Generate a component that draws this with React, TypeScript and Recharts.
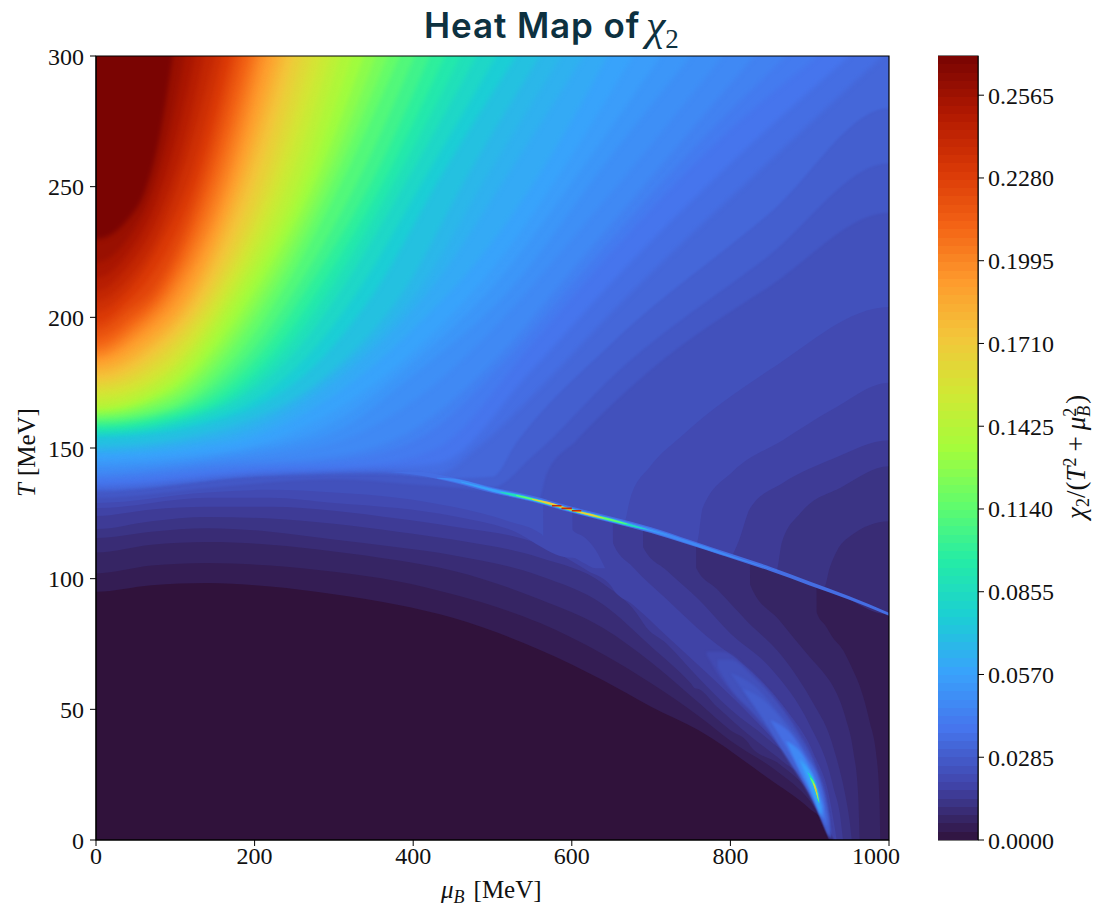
import { Area, Bar, ComposedChart, ReferenceArea, XAxis, YAxis } from 'recharts'

const MU_TICKS = [0, 200, 400, 600, 800, 1000]
const T_TICKS = [0, 50, 100, 150, 200, 250, 300]
const CBAR_TICKS = [0, 0.0285, 0.057, 0.0855, 0.114, 0.1425, 0.171, 0.1995, 0.228, 0.2565]
const CBAR_MAX = 0.27
const CBAR_STEP = 0.00285
const cbarRow = [{ name: 'cbar', range: [0, CBAR_MAX] }]

// plotly's 15 stop turbo ramp
const TURBO = ['#30123b', '#4145ab', '#4675ed', '#39a2fc', '#1bcfd4', '#24eca6', '#61fc6c', '#a4fc3b', '#d1e834', '#f3c63a', '#fe9b2d', '#f36315', '#d93806', '#b11901', '#7a0402']

function turbo(value: number) {
  const t = Math.min(1, Math.max(0, value / CBAR_MAX)) * (TURBO.length - 1)
  const i = Math.min(TURBO.length - 2, Math.floor(t))
  const mix = (at: number) => {
    const a = parseInt(TURBO[i].slice(at, at + 2), 16)
    const b = parseInt(TURBO[i + 1].slice(at, at + 2), 16)
    return Math.round(a + (b - a) * (t - i))
  }
  return `rgb(${mix(1)},${mix(3)},${mix(5)})`
}

// contour levels under the crossover line: [mu, lower T, upper T]
const lowValues = [0.00285, 0.0057, 0.00855, 0.0114, 0.01425, 0.0171, 0.01995, 0.0228]
const lowCurves = [
  [[0, 95, 300], [70, 97.5, 300], [140, 98.3, 300], [220, 97, 300], [300, 94, 300], [380, 90, 300], [450, 85, 300], [560, 72.7, 300], [640, 61, 300], [700, 51, 300], [760, 42, 300], [846, 24, 300], [900, 12, 300], [917, 7, 300], [923, 1, 300], [925, 0, 300], [1000, 0, 300]],
  [[0, 102, 300], [70, 105, 300], [140, 106, 300], [220, 105, 300], [300, 102.6, 300], [380, 99, 300], [450, 94, 300], [560, 83, 300], [640, 71, 300], [700, 60, 300], [762, 47, 300], [800, 38, 300], [860, 26, 300], [900, 15, 300], [907, 12, 300], [909, 11, 87], [920, 6, 82], [928, 0, 78], [942, 0, 72.7], [953, 0, 66], [963, 0, 59], [975, 0, 46], [985, 0, 30], [988, 0, 15], [989, 0, 0]],
  [[0, 110, 300], [70, 113, 300], [140, 114, 300], [220, 113, 300], [300, 110.4, 300], [380, 107, 300], [450, 103, 300], [560, 92, 300], [640, 81, 300], [700, 68, 300], [762, 52, 300], [800, 42, 300], [823, 37, 300], [825, 36, 97.6], [862, 29, 84], [900, 18, 70], [920, 8, 63], [929, 0, 59], [945, 0, 47], [955, 0, 34], [961, 0, 18], [963, 0, 0]],
  [[0, 115.6, 300], [70, 118, 300], [140, 119.3, 300], [220, 118, 300], [300, 115, 300], [380, 112, 300], [450, 109, 300], [560, 101, 300], [640, 90, 300], [700, 74, 300], [750, 60, 300], [756, 58, 300], [757, 58, 104], [783, 51, 96], [820, 41, 84], [866, 30, 70], [905, 19, 52], [925, 5, 40], [935, 0, 30], [945, 0, 17], [950, 0, 8], [953, 0, 0]],
  [[0, 119, 300], [70, 122, 300], [140, 123.6, 300], [220, 123, 300], [300, 121, 300], [380, 118, 300], [450, 115, 300], [560, 108, 300], [640, 98, 300], [688, 84, 300], [690, 83, 112], [720, 75, 103], [760, 62, 92], [800, 50, 79], [850, 38, 66], [900, 23, 44], [925, 5, 26], [930, 0, 20], [938, 0, 10], [942, 0, 0]],
  [[0, 124, 300], [70, 126.5, 300], [140, 127.5, 300], [220, 127.5, 300], [300, 126, 300], [380, 123, 300], [450, 120, 300], [560, 113, 300], [620, 103, 300], [650, 97, 300], [652, 96, 113.6], [677, 90, 104.5], [720, 78, 92], [770, 64, 78], [821, 49, 66], [870, 33, 50], [905, 19, 33], [925, 4, 16], [933, 0, 2], [934, 0, 0]],
  [[0, 127, 300], [140, 131, 300], [220, 131, 300], [300, 129, 300], [380, 127, 300], [450, 124, 300], [520, 119, 300], [599, 108, 300], [601, 108, 118.6], [615, 106, 116], [630, 104, 111], [642, 104, 104]],
  [[0, 129, 300], [140, 133, 300], [220, 134, 300], [300, 133, 300], [380, 131, 300], [450, 127.5, 300], [520, 122, 300], [562, 117, 300], [564, 116, 116]],
]

// the narrow lobe that runs into the spot near mu = 910
const spotValues = [0.01995, 0.0228, 0.0257, 0.0285, 0.0342, 0.0456, 0.057, 0.0798, 0.114, 0.171, 0.2]
const spotCurves = [
  [[770, 71, 72], [790, 61, 72], [820, 52, 66], [846, 44, 58], [880, 30, 44], [905, 16, 30], [922, 3, 14], [927, 0, 2]],
  [[784, 66, 69], [800, 58, 69], [830, 48, 62], [860, 37, 52], [885, 26, 41], [905, 15, 30], [922, 3, 13], [926, 0, 4]],
  [[800, 64, 64], [830, 51, 59], [860, 38, 49], [890, 24, 37], [910, 12, 25], [924, 2, 9], [926, 1, 1]],
  [[815, 58, 58], [840, 47, 54], [870, 32, 44], [895, 20, 33], [915, 8, 20], [924, 2, 8]],
  [[850, 46, 46], [875, 33, 41], [895, 22, 32], [915, 9, 19], [921, 5, 9]],
  [[870, 38, 38], [890, 25, 33], [905, 16, 24], [917, 8, 13]],
  [[887, 31, 31], [896, 24, 28], [908, 14, 21], [914, 9, 12]],
  [[897, 26, 26], [905, 20, 23], [911, 14, 18]],
  [[900, 24, 24], [907, 19, 21], [912, 14, 15]],
  [[904, 22, 22], [908, 18, 20], [911, 15, 15]],
  [[906, 21, 21], [909, 18, 18.5]],
]

// contour levels of the hot region above the line: [mu, lower T]
const capValues = [0.00855, 0.0114, 0.01425, 0.0171, 0.01995, 0.0228, 0.0257, 0.0285, 0.0314, 0.0342, 0.0371, 0.0399, 0.0428, 0.0456, 0.0485, 0.0513, 0.0542, 0.057, 0.0598, 0.0627, 0.0655, 0.0684, 0.0741, 0.0798, 0.0855, 0.0912, 0.0969, 0.1026, 0.1083, 0.114, 0.1197, 0.1254, 0.1311, 0.1368, 0.1425, 0.1482, 0.1539, 0.1596, 0.1653, 0.171, 0.1767, 0.1824, 0.1881, 0.1938, 0.1995, 0.2052, 0.2109, 0.2166, 0.2223, 0.228, 0.2337, 0.2394, 0.2451, 0.2508, 0.2565, 0.2622]
const capCurves = [
  [[820, 106.6], [866, 102], [930, 95], [1000, 86.3]],
  [[750, 113.6], [800, 108.6], [850, 103.6], [900, 98], [918, 96.5], [925, 104], [935, 111], [950, 116], [1000, 122]],
  [[688, 119.5], [750, 113.6], [800, 108.6], [850, 103.6], [858, 103], [865, 114], [888, 125], [940, 135], [1000, 143]],
  [[650, 122.4], [700, 118.5], [750, 113.6], [800, 108.6], [810, 114], [825, 127], [866, 136.6], [930, 146], [1000, 153]],
  [[599, 126.3], [650, 122.4], [700, 118.5], [750, 113.6], [758, 114], [765, 127], [803, 141], [866, 153], [930, 165], [1000, 175]],
  [[562, 129.5], [600, 126.2], [650, 122.4], [665, 121], [674, 131], [699, 143], [740, 155], [850, 180], [1000, 204]],
  [[0, 131], [150, 135], [300, 138], [400, 136], [480, 134], [550, 130.4], [558, 130], [568, 140], [606, 153], [700, 180], [850, 212], [1000, 240]],
  [[0, 133], [200, 139], [350, 140], [450, 138], [500, 135], [551, 147], [657, 179], [846, 223], [1000, 259]],
  [[0, 134], [200, 139.5], [350, 141], [450, 138.5], [500, 139], [530, 152], [650, 190], [850, 240], [1000, 280]],
  [[0, 135], [200, 140], [350, 141.5], [430, 140], [480, 150], [550, 170], [660, 205], [850, 260], [992, 300]],
  [[0, 136], [200, 141], [350, 142.5], [430, 144], [550, 180], [655, 215], [825, 266], [950, 300]],
  [[0, 137.5], [200, 142], [350, 144], [430, 150], [550, 190], [650, 225], [800, 272], [910, 300]],
  [[0, 139], [170, 143], [320, 146], [420, 156], [520, 185], [632, 224], [770, 270], [870, 300]],
  [[0, 140], [150, 144], [300, 147], [400, 157], [488, 179], [614, 223], [740, 268], [830, 300]],
  [[0, 141.5], [155, 145.5], [300, 152], [400, 168], [505, 197], [614, 235], [700, 266], [790, 300]],
  [[0, 143], [160, 147], [300, 156], [400, 178], [520, 210], [650, 262], [750, 300]],
  [[0, 144.5], [165, 148.5], [300, 160], [400, 183], [495, 210], [620, 260], [712, 300]],
  [[0, 146], [173, 150], [299, 164], [425, 194], [509, 222], [600, 262], [677, 300]],
  [[0, 147.5], [173, 152.5], [299, 170], [405, 197], [490, 225], [580, 265], [645, 300]],
  [[0, 149], [173, 155], [299, 175], [430, 214], [520, 255], [615, 300]],
  [[0, 150], [173, 157], [299, 178], [410, 212], [495, 255], [587, 300]],
  [[0, 151], [173, 159], [299, 180], [388, 210], [470, 255], [560, 300]],
  [[0, 154], [170, 162], [290, 186], [352, 210], [437, 255], [530, 300]],
  [[0, 155], [160, 163], [275, 188], [330, 210], [418, 255], [505, 300]],
  [[0, 156], [153, 165], [260, 190], [308, 210], [397, 255], [480, 300]],
  [[0, 157], [142, 165], [245, 190], [293, 210], [382, 255], [460, 300]],
  [[0, 158], [130, 165], [232, 190], [279, 210], [368, 255], [440, 300]],
  [[0, 159], [115, 165], [218, 190], [264, 210], [353, 255], [421, 300]],
  [[0, 160], [100, 165], [204, 190], [250, 210], [335, 255], [402, 300]],
  [[0, 161], [89, 165], [190, 190], [235, 210], [315, 255], [383, 300]],
  [[0, 162], [90, 167], [223, 210], [303, 255], [368, 300]],
  [[0, 163], [90, 169], [212, 210], [292, 255], [353, 300]],
  [[0, 164], [90, 171], [201, 210], [281, 255], [338, 300]],
  [[0, 165], [90, 173], [190, 210], [270, 255], [323, 300]],
  [[0, 166], [89, 175], [180, 210], [259, 255], [308, 300]],
  [[0, 168], [85, 177], [172, 210], [247, 255], [296, 300]],
  [[0, 170], [80, 178], [164, 210], [236, 255], [284, 300]],
  [[0, 172], [75, 180], [156, 210], [226, 255], [272, 300]],
  [[0, 174], [70, 182], [148, 210], [216, 255], [260, 300]],
  [[0, 176], [65, 184], [140, 210], [205, 255], [249, 300]],
  [[0, 178], [62, 186], [132, 210], [196, 255], [240, 300]],
  [[0, 180], [60, 188], [125, 210], [188, 255], [232, 300]],
  [[0, 182], [56, 190], [118, 210], [181, 255], [224, 300]],
  [[0, 184], [52, 192], [109, 210], [174, 255], [215, 300]],
  [[0, 185.5], [50, 194], [100, 210], [167, 255], [207, 300]],
  [[0, 187.5], [48, 196], [92, 210], [159, 255], [200, 300]],
  [[0, 189.5], [46, 198], [85, 210], [151, 255], [193, 300]],
  [[0, 192], [44, 200], [78, 210], [144, 255], [185, 300]],
  [[0, 195], [42, 203], [70, 210], [137, 255], [177, 300]],
  [[0, 198], [40, 206], [60, 212], [130, 255], [170, 300]],
  [[0, 202], [40, 210], [79, 227], [124, 258], [160, 300]],
  [[0, 206], [40, 214], [78, 231], [115, 261], [150, 300]],
  [[0, 210], [40, 219], [77, 237], [110, 265], [137, 300]],
  [[0, 215], [40, 224], [75, 243], [103, 270], [125, 300]],
  [[0, 221], [40, 230], [70, 247], [92, 270], [112, 300]],
  [[0, 230], [39, 237], [64, 250], [81, 270], [97, 300]],
]

// the sharp crossover line: [mu, lower T, upper T]
const ridgeValues = [0.0342, 0.0456, 0.057, 0.0855, 0.114, 0.171]
const ridgeCurves = [
  [[370, 140.8, 140.8], [400, 139.9, 141], [450, 136.8, 138.7], [500, 132.8, 135], [550, 129.4, 131.7], [600, 125.2, 127.5], [650, 121.4, 123.7], [700, 117.5, 119.7], [750, 112.8, 114.7], [800, 107.9, 109.6], [850, 102.9, 104.6], [900, 97.4, 98.9], [950, 91.9, 93.3], [1000, 85.8, 87]],
  [[430, 138.4, 138.6], [450, 137.2, 138.3], [500, 133.2, 134.6], [550, 129.7, 131.2], [600, 125.5, 127], [650, 121.7, 123.2], [700, 117.9, 119.2], [750, 113.1, 114.2], [800, 108.2, 109], [860, 102.8, 102.9]],
  [[460, 136.9, 137.2], [500, 133.4, 134.3], [550, 129.8, 131], [600, 125.6, 126.8], [650, 121.8, 123], [690, 118.9, 119.5], [720, 116.7, 116.8]],
  [[510, 133, 133.3], [530, 131.3, 132.3], [550, 130, 130.9], [600, 125.8, 126.7], [650, 122, 122.9], [675, 120, 120.7], [695, 118.8, 118.9]],
  [[530, 131.6, 132], [550, 130.1, 130.8], [600, 125.9, 126.6], [650, 122.1, 122.8], [670, 120.8, 121]],
  [[550, 130.2, 130.6], [570, 128.6, 129.4], [600, 126, 126.5], [625, 124, 124.7], [640, 123, 123.2]],
]
const ridgeCore = [[575, 127.6, 128.2], [587, 126.6, 127.2], [600, 125.7, 126.3], [612, 125.7, 126.3]]

const SERIF = '"Liberation Serif", serif'
const BASE = '#30123b'

function band(key: string, curve: number[][], fill: string, softness = '', type: 'monotone' | 'stepAfter' = 'monotone') {
  const data = curve.map(([mu, lo, hi]) => ({ mu, range: [lo, hi ?? 315] }))
  // run past the frame so a softened edge never shows at the border
  if (softness && curve[0][0] === 0) data.unshift({ mu: -15, range: data[0].range })
  if (softness && curve[curve.length - 1][0] === 1000) data.push({ mu: 1015, range: data[data.length - 1].range })
  return (
    <Area
      key={key}
      className={softness}
      data={data}
      dataKey="range"
      type={type}
      fill={fill}
      fillOpacity={1}
      stroke="none"
      dot={false}
      activeDot={false}
      isAnimationActive={false}
    />
  )
}

function capColor(v: number) {
  if (v > 0.26) return turbo(CBAR_MAX)
  return turbo(v + (v < 0.068 ? 0.0014 : 0.0028))
}

function capSoftness(v: number) {
  if (v > 0.034) return 'soft-l'
  return v > 0.025 ? 'soft-m' : 'soft-s'
}

function cbarStops() {
  const count = Math.round(CBAR_MAX / CBAR_STEP)
  const stops = []
  for (let i = 0; i < count; i++) {
    const color = turbo((i + 0.5) * CBAR_STEP)
    stops.push(<stop key={`${i}a`} offset={i / count} stopColor={color} />)
    stops.push(<stop key={`${i}b`} offset={(i + 1) / count} stopColor={color} />)
  }
  return stops
}

export default function App() {
  const tickStyle = { fontFamily: SERIF, fontSize: 24, fill: '#111' }
  return (
    <div style={{ position: 'absolute', left: 0, top: 0, width: 1095, height: 907, background: '#fff' }}>
      <style>{`
        .soft-s .recharts-area-area { filter: blur(0.6px); }
        .soft-m .recharts-area-area { filter: blur(1.3px); }
        .soft-l .recharts-area-area { filter: blur(2.5px); }
      `}</style>
      <div style={{ position: 'absolute', left: 0, top: 0 }}>
        <ComposedChart width={900} height={907} margin={{ top: 56, right: 11, bottom: 0, left: 0 }}>
          <XAxis
            dataKey="mu"
            type="number"
            domain={[0, 1000]}
            ticks={MU_TICKS}
            height={67}
            tick={tickStyle}
            tickSize={6}
            stroke="#000"
            tickMargin={1}
            allowDataOverflow
          />
          <YAxis
            type="number"
            domain={[0, 300]}
            ticks={T_TICKS}
            width={96}
            tick={tickStyle}
            tickSize={6}
            stroke="#000"
            tickMargin={6}
            allowDataOverflow
          />
          <ReferenceArea x1={0} x2={1000} y1={0} y2={300} fill={BASE} fillOpacity={1} stroke="none" />
          {lowCurves.map((c, i) => band(`low-${i}`, c, turbo(lowValues[i] + 0.0014), 'soft-s'))}
          {spotCurves.map((c, i) => band(`spot-${i}`, c, turbo(spotValues[i] + 0.0014), i < 7 ? 'soft-m' : 'soft-s'))}
          {capCurves.map((c, i) => band(`cap-${i}`, c, capColor(capValues[i]), capSoftness(capValues[i])))}
          {ridgeCurves.map((c, i) => band(`ridge-${i}`, c, turbo(ridgeValues[i] + 0.0014)))}
          {band('ridge-core', ridgeCore, turbo(0.24), '', 'stepAfter')}
          <ReferenceArea x1={0} x2={1000} y1={0} y2={300} fill="none" stroke="#000" strokeWidth={1.2} />
        </ComposedChart>
      </div>

      <div style={{ position: 'absolute', left: 938, top: 0 }}>
        <ComposedChart width={157} height={907} data={cbarRow} barCategoryGap={0} margin={{ top: 56, right: 0, bottom: 67, left: 0 }}>
          <defs>
            <linearGradient id="cbar" x1="0" y1="1" x2="0" y2="0">
              {cbarStops()}
            </linearGradient>
          </defs>
          <XAxis dataKey="name" hide />
          <YAxis
            orientation="right"
            type="number"
            domain={[0, CBAR_MAX]}
            ticks={CBAR_TICKS}
            tickFormatter={(v: number) => v.toFixed(4)}
            width={117}
            tick={tickStyle}
            tickSize={6}
            stroke="#000"
            tickMargin={4}
            allowDataOverflow
          />
          <Bar dataKey="range" fill="url(#cbar)" isAnimationActive={false} />
          <ReferenceArea y1={0} y2={CBAR_MAX} fill="none" stroke="#000" strokeWidth={1.2} />
        </ComposedChart>
      </div>

      {/* titles, drawn over the two charts */}
      <svg width={1095} height={907} style={{ position: 'absolute', left: 0, top: 0, pointerEvents: 'none' }}>
        <text x={424} y={38} fontFamily="Inter, sans-serif" fontWeight={600} fontSize={35} fill="#0d3140" letterSpacing={0.9}>
          Heat Map of
        </text>
        <text x={646} y={40} fontFamily={SERIF} fontStyle="italic" fontSize={44} fill="#0d3140">
          χ<tspan fontStyle="normal" fontSize={27} dy={8}>2</tspan>
        </text>
        <text x={441} y={898} fontFamily={SERIF} fontSize={25} fill="#111">
          <tspan fontStyle="italic">μ</tspan>
          <tspan fontStyle="italic" fontSize={18} dy={5}>B</tspan>
          <tspan dy={-5} dx={9}>[MeV]</tspan>
        </text>
        <text transform="translate(35,497) rotate(-90)" fontFamily={SERIF} fontSize={25} fill="#111">
          <tspan fontStyle="italic">T</tspan>
          <tspan dx={7}>[MeV]</tspan>
        </text>
        <text transform="translate(1085,519) rotate(-90)" fontFamily={SERIF} fontSize={27} fill="#111">
          <tspan fontStyle="italic">χ</tspan>
          <tspan fontSize={18} dy={4}>2</tspan>
          <tspan dy={-4}>/(</tspan>
          <tspan fontStyle="italic">T</tspan>
          <tspan fontSize={18} dy={-9}>2</tspan>
          <tspan dy={9} dx={6}>+</tspan>
          <tspan fontStyle="italic" dx={6}>μ</tspan>
          <tspan fontSize={18} dy={-9}>2</tspan>
          <tspan fontStyle="italic" fontSize={18} dy={14} dx={-9}>B</tspan>
          <tspan dy={-5} dx={2}>)</tspan>
        </text>
      </svg>
    </div>
  )
}
